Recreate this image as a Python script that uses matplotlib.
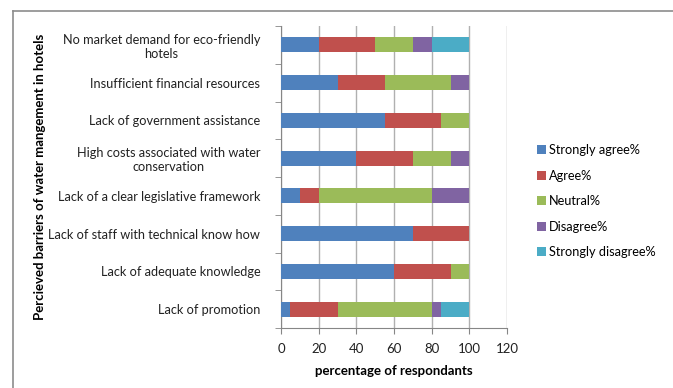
import numpy as np
import matplotlib
matplotlib.use("Agg")
import matplotlib.pyplot as plt
from matplotlib.lines import Line2D

plt.rcParams["font.family"] = ["Lato", "DejaVu Sans"]

categories = [
    "No market demand for eco-friendly\nhotels",
    "Insufficient financial resources",
    "Lack of government assistance",
    "High costs associated with water\nconservation",
    "Lack of a clear legislative framework",
    "Lack of staff with technical know how",
    "Lack of adequate knowledge",
    "Lack of promotion",
]
strongly_agree = [20, 30, 55, 40, 10, 70, 60, 5]
agree = [30, 25, 30, 30, 10, 30, 30, 25]
neutral = [20, 35, 15, 20, 60, 0, 10, 50]
disagree = [10, 10, 0, 10, 20, 0, 0, 5]
strongly_disagree = [20, 0, 0, 0, 0, 0, 0, 15]

series = [
    ("Strongly agree%", strongly_agree, "#4F81BD"),
    ("Agree%", agree, "#C0504D"),
    ("Neutral%", neutral, "#9BBB59"),
    ("Disagree%", disagree, "#8064A2"),
    ("Strongly disagree%", strongly_disagree, "#4BACC6"),
]

W, H = 673, 388
fig = plt.figure(figsize=(W / 100, H / 100), dpi=100)
# chart frame (top and left edges visible)
fig.add_artist(Line2D([13 / W, 1], [1 - 11 / H, 1 - 11 / H], color="#8C8C8C", lw=1.2))
fig.add_artist(Line2D([13 / W, 13 / W], [0, 1 - 11 / H], color="#8C8C8C", lw=1.2))

ax = fig.add_axes([281 / W, 1 - 328 / H, 226 / W, 302 / H])

y = np.arange(len(categories))[::-1]
left = np.zeros(len(categories))
for name, vals, color in series:
    vals = np.asarray(vals, dtype=float)
    ax.barh(y, vals, height=0.4, left=left, color=color, label=name, zorder=3)
    left += vals

ax.set_xlim(0, 120)
ax.set_ylim(-0.5, len(categories) - 0.5)
ax.set_xticks(np.arange(0, 121, 20))
ax.set_yticks(y)
ax.set_yticklabels(categories, multialignment="center")
ax.set_yticks(np.arange(-0.5, len(categories), 1), minor=True)
ax.tick_params(axis="y", which="major", length=0, pad=15, labelsize=9.2, labelcolor="#222222")
ax.tick_params(axis="y", which="minor", length=4, color="#868686")
ax.tick_params(axis="x", length=4, color="#868686", labelsize=9.5, pad=7, labelcolor="#222222")
ax.grid(axis="x", color="#B0B0B0", lw=1, zorder=0)
for side in ("top", "right"):
    ax.spines[side].set_visible(False)
for side in ("left", "bottom"):
    ax.spines[side].set_color("#868686")

ax.set_xlabel("percentage of respondants", fontweight="bold", fontsize=9.5, labelpad=7)
fig.text(40 / W, 1 - 177 / H, "Percieved barriers of water mangement in hotels", rotation=90,
         fontweight="bold", fontsize=9.5, ha="center", va="center")

ax.legend(loc="center left", bbox_to_anchor=(1.08, 0.42), frameon=False, fontsize=9.2,
          handlelength=0.7, handleheight=0.7, handletextpad=0.3, labelspacing=1.05)

fig.savefig("out.png", dpi=100)
